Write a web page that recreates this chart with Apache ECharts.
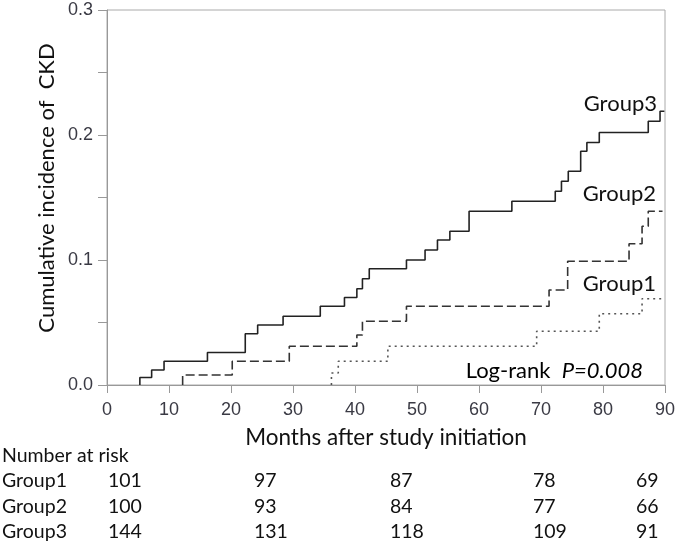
<!DOCTYPE html>
<html><head><meta charset="utf-8">
<script src="https://cdn.jsdelivr.net/npm/echarts@6/dist/echarts.min.js"></script>
<style>html,body{margin:0;padding:0;background:#fff}#c{width:680px;height:546px}</style>
</head><body><div id="c"></div>
<script>
// Kaplan-Meier style cumulative incidence (months, cumulative incidence)
const g3Time = [5.3, 5.3, 7.2, 9.2, 16.2, 22.3, 24.3, 28.4, 34.4, 38.3, 40.3, 41.2, 42.3, 48.3, 51.3, 53.3, 55.3, 58.4, 65.3, 72.3, 73.3, 74.4, 76.4, 77.4, 79.4, 87.3, 89.2, 89.9];
const g3Val  = [0, 0.006, 0.012, 0.019, 0.026, 0.041, 0.048, 0.055, 0.063, 0.070, 0.077, 0.085, 0.093, 0.100, 0.108, 0.116, 0.123, 0.139, 0.147, 0.155, 0.163, 0.171, 0.187, 0.194, 0.202, 0.211, 0.219, 0.219];
const g2Time = [12.2, 12.2, 20.2, 29.4, 40.3, 41.2, 48.3, 71.3, 74.3, 84.2, 86.3, 87.3, 89.6];
const g2Val  = [0, 0.008, 0.019, 0.031, 0.040, 0.051, 0.063, 0.076, 0.099, 0.113, 0.127, 0.139, 0.139];
const g1Time = [36.2, 36.2, 37.3, 45.3, 69.3, 79.4, 86.3, 89.7];
const g1Val  = [0, 0.0096, 0.019, 0.031, 0.043, 0.057, 0.069, 0.069];

const xTicks = [0, 10, 20, 30, 40, 50, 60, 70, 80, 90];
const yTicks = [0.0, 0.1, 0.2, 0.3];

const groupNames = ['Group1', 'Group2', 'Group3'];
const riskG1 = [101, 97, 87, 78, 69];
const riskG2 = [100, 93, 84, 77, 66];
const riskG3 = [144, 131, 118, 109, 91];

const FONT = 'Lato';
const TICKFONT = 'Liberation Sans';
const zip = (t, v) => t.map((x, i) => [x, v[i]]);

const chart = echarts.init(document.getElementById('c'));

const riskColsX = [108, 254, 390, 533, 636];
const riskRowsY = [481, 507, 532];
const graphics = [];
graphics.push({type:'text', x: 2, y: 456, style:{text:'Number at risk', font:'19.5px ' + FONT, fill:'#111', verticalAlign:'middle'}});
[riskG1, riskG2, riskG3].forEach((row, r) => {
  graphics.push({type:'text', x: 2, y: riskRowsY[r], style:{text: groupNames[r], font:'19.5px ' + FONT, fill:'#111', verticalAlign:'middle'}});
  row.forEach((n, c) => {
    graphics.push({type:'text', x: riskColsX[c], y: riskRowsY[r], style:{text: String(n), font:'19.5px ' + FONT, fill:'#111', verticalAlign:'middle'}});
  });
});
graphics.push({type:'text', x: 47, y: 188, rotation: Math.PI/2,
  style:{text:'Cumulative incidence of  CKD', font:'22px ' + FONT, fill:'#111', align:'center', verticalAlign:'middle'}});
graphics.push({type:'text', x: 657, y: 104, style:{text:'Group3', font:'22px ' + FONT, fill:'#111', align:'right', verticalAlign:'middle'}});
graphics.push({type:'text', x: 656, y: 194, style:{text:'Group2', font:'22px ' + FONT, fill:'#111', align:'right', verticalAlign:'middle'}});
graphics.push({type:'text', x: 656, y: 284, style:{text:'Group1', font:'22px ' + FONT, fill:'#111', align:'right', verticalAlign:'middle'}});
graphics.push({type:'text', x: 643, y: 371, style:{
  text:'{a|Log-rank  }{b|P=0.008}', align:'right', verticalAlign:'middle',
  rich:{a:{fontFamily:FONT, fontSize:22, color:'#111'}, b:{fontFamily:FONT, fontSize:22, fontStyle:'italic', color:'#111'}}}});

chart.setOption({
  animation: false,
  backgroundColor: '#fff',
  grid: {left: 107, top: 10, width: 558, height: 375, show: true, borderColor: '#aaa', borderWidth: 1, containLabel: false},
  xAxis: {
    type: 'value', min: 0, max: 90, interval: 10,
    name: 'Months after study initiation', nameLocation: 'middle', nameGap: 41,
    nameTextStyle: {fontFamily: FONT, fontSize: 22.5, color: '#111'},
    axisLine: {lineStyle: {color: '#999'}},
    axisTick: {show: true, length: 8, lineStyle: {color: '#999'}},
    axisLabel: {fontFamily: TICKFONT, fontSize: 18, color: '#3a3a44', margin: 16,
      formatter: v => xTicks.includes(v) ? String(v) : ''},
    splitLine: {show: false}
  },
  yAxis: {
    type: 'value', min: 0, max: 0.3, interval: 0.05,
    axisLine: {show: true, lineStyle: {color: '#999'}},
    axisTick: {show: true, length: 9, lineStyle: {color: '#999'}},
    axisLabel: {fontFamily: TICKFONT, fontSize: 18, color: '#3a3a44', margin: 14,
      formatter: v => { const m = yTicks.find(t => Math.abs(t - v) < 1e-9); return m === undefined ? '' : m.toFixed(1); }},
    splitLine: {show: false}
  },
  graphic: graphics,
  series: [
    {name: 'Group3', type: 'line', step: 'end', symbol: 'none', data: zip(g3Time, g3Val),
      lineStyle: {color: '#222', width: 1.6, type: 'solid'}},
    {name: 'Group2', type: 'line', step: 'end', symbol: 'none', data: zip(g2Time, g2Val),
      lineStyle: {color: '#333', width: 1.6, type: [9, 4]}},
    {name: 'Group1', type: 'line', step: 'end', symbol: 'none', data: zip(g1Time, g1Val),
      lineStyle: {color: '#555', width: 1.6, type: [2, 4]}}
  ]
});
</script></body></html>
